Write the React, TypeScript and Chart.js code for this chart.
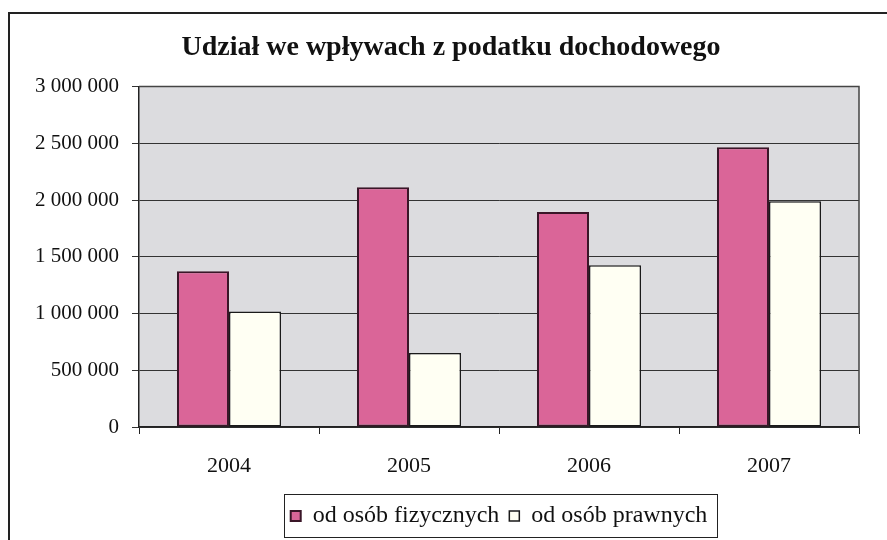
import React, { useEffect, useRef } from "react";
import { Chart, registerables } from "chart.js";

Chart.register(...registerables);

const titleText = "Udział we wpływach z podatku dochodowego";
const categories = ["2004", "2005", "2006", "2007"];
const seriesLabels = ["od osób fizycznych", "od osób prawnych"];
const fizyczneValues = [1373000, 2112000, 1894000, 2465000];
const prawneValues = [1018000, 653000, 1426000, 1990000];
const yMin = 0;
const yMax = 3000000;
const yStep = 500000;

const FONT = "'Liberation Serif', 'Times New Roman', serif";

function formatThousands(v: number): string {
  return String(Math.round(v)).replace(/\B(?=(\d{3})+(?!\d))/g, " ");
}

const plotFramePlugin = {
  id: "plotFrame",
  beforeDraw(chart: any) {
    const { ctx, chartArea } = chart;
    ctx.save();
    ctx.fillStyle = "#dcdcdf";
    ctx.fillRect(chartArea.left, chartArea.top, chartArea.right - chartArea.left, chartArea.bottom - chartArea.top);
    ctx.restore();
  },
  afterDraw(chart: any) {
    const { ctx, chartArea } = chart;
    ctx.save();
    ctx.strokeStyle = "#444";
    ctx.lineWidth = 1.5;
    ctx.beginPath();
    ctx.moveTo(chartArea.left, chartArea.top);
    ctx.lineTo(chartArea.right, chartArea.top);
    ctx.lineTo(chartArea.right, chartArea.bottom);
    ctx.stroke();
    const lg = chart.legend;
    if (lg && lg.legendHitBoxes && lg.legendHitBoxes.length) {
      let minX = Infinity, maxX = -Infinity, minY = Infinity, maxY = -Infinity;
      for (const hb of lg.legendHitBoxes) {
        minX = Math.min(minX, hb.left);
        maxX = Math.max(maxX, hb.left + hb.width);
        minY = Math.min(minY, hb.top);
        maxY = Math.max(maxY, hb.top + hb.height);
      }
      ctx.strokeStyle = "#222";
      ctx.lineWidth = 1;
      ctx.strokeRect(Math.round(minX - 7) + 0.5, Math.round(minY - 10) + 0.5, Math.round(maxX - minX + 16), Math.round(maxY - minY + 19));
    }
    ctx.restore();
  },
};

function BarChart() {
  const ref = useRef<HTMLCanvasElement | null>(null);
  useEffect(() => {
    if (!ref.current) return;
    const chart = new Chart(ref.current, {
      type: "bar",
      data: {
        labels: categories,
        datasets: [
          {
            label: seriesLabels[0],
            data: fizyczneValues,
            backgroundColor: "#da6598",
            borderColor: "#3a1628",
            borderWidth: 2,
            borderSkipped: false,
          },
          {
            label: seriesLabels[1],
            data: prawneValues,
            backgroundColor: "#fffff3",
            borderColor: "#1a1a1a",
            borderWidth: 1.5,
            borderSkipped: false,
          },
        ],
      },
      options: {
        animation: false,
        responsive: true,
        maintainAspectRatio: false,
        datasets: { bar: { categoryPercentage: 0.578, barPercentage: 1.0 } },
        layout: { padding: { left: 0, right: 0, top: 0, bottom: 2 } },
        plugins: {
          title: {
            display: true,
            text: titleText,
            color: "#111",
            font: { family: FONT, size: 28, weight: "bold" },
            padding: { top: 31, bottom: 22 },
          },
          legend: {
            position: "bottom",
            fullSize: false,
            labels: {
              color: "#111",
              font: { family: FONT, size: 24 },
              boxWidth: 10,
              boxHeight: 10,
              padding: 10,
            },
          },
          tooltip: { enabled: false },
        },
        scales: {
          x: {
            grid: {
              display: true,
              drawOnChartArea: false,
              drawTicks: true,
              tickLength: 7,
              color: "#222",
              offset: true,
            },
            border: { display: true, color: "#222", width: 1.5 },
            ticks: {
              color: "#111",
              font: { family: FONT, size: 22 },
              padding: 19,
            },
            afterFit(scale: any) {
              scale.height = 67;
            },
          },
          y: {
            min: yMin,
            max: yMax,
            grid: {
              display: true,
              drawOnChartArea: true,
              drawTicks: true,
              tickLength: 7,
              color: "#333",
              lineWidth: 1,
            },
            border: { display: true, color: "#222", width: 1.5 },
            ticks: {
              stepSize: yStep,
              color: "#111",
              font: { family: FONT, size: 21 },
              padding: 13,
              callback: (v: any) => formatThousands(Number(v)),
            },
            afterFit(scale: any) {
              scale.width = 124;
            },
          },
          spacer: {
            type: "linear",
            position: "right",
            display: true,
            grid: { display: false, drawTicks: false },
            border: { display: false },
            ticks: { display: false },
            afterFit(scale: any) {
              scale.width = 28;
            },
          },
        },
      },
      plugins: [plotFramePlugin],
    });
    return () => chart.destroy();
  }, []);
  return <canvas ref={ref} />;
}

export default function App() {
  return (
    <div style={{ position: "fixed", left: 0, top: 0, width: 887, height: 540, overflow: "hidden", background: "#fff" }}>
      <div
        style={{
          position: "absolute",
          left: 8,
          top: 12,
          width: 900,
          height: 600,
          borderTop: "2px solid #222",
          borderLeft: "2px solid #222",
        }}
      />
      <div style={{ position: "absolute", left: 15, top: 0, width: 872, height: 540 }}>
        <BarChart />
      </div>
    </div>
  );
}
